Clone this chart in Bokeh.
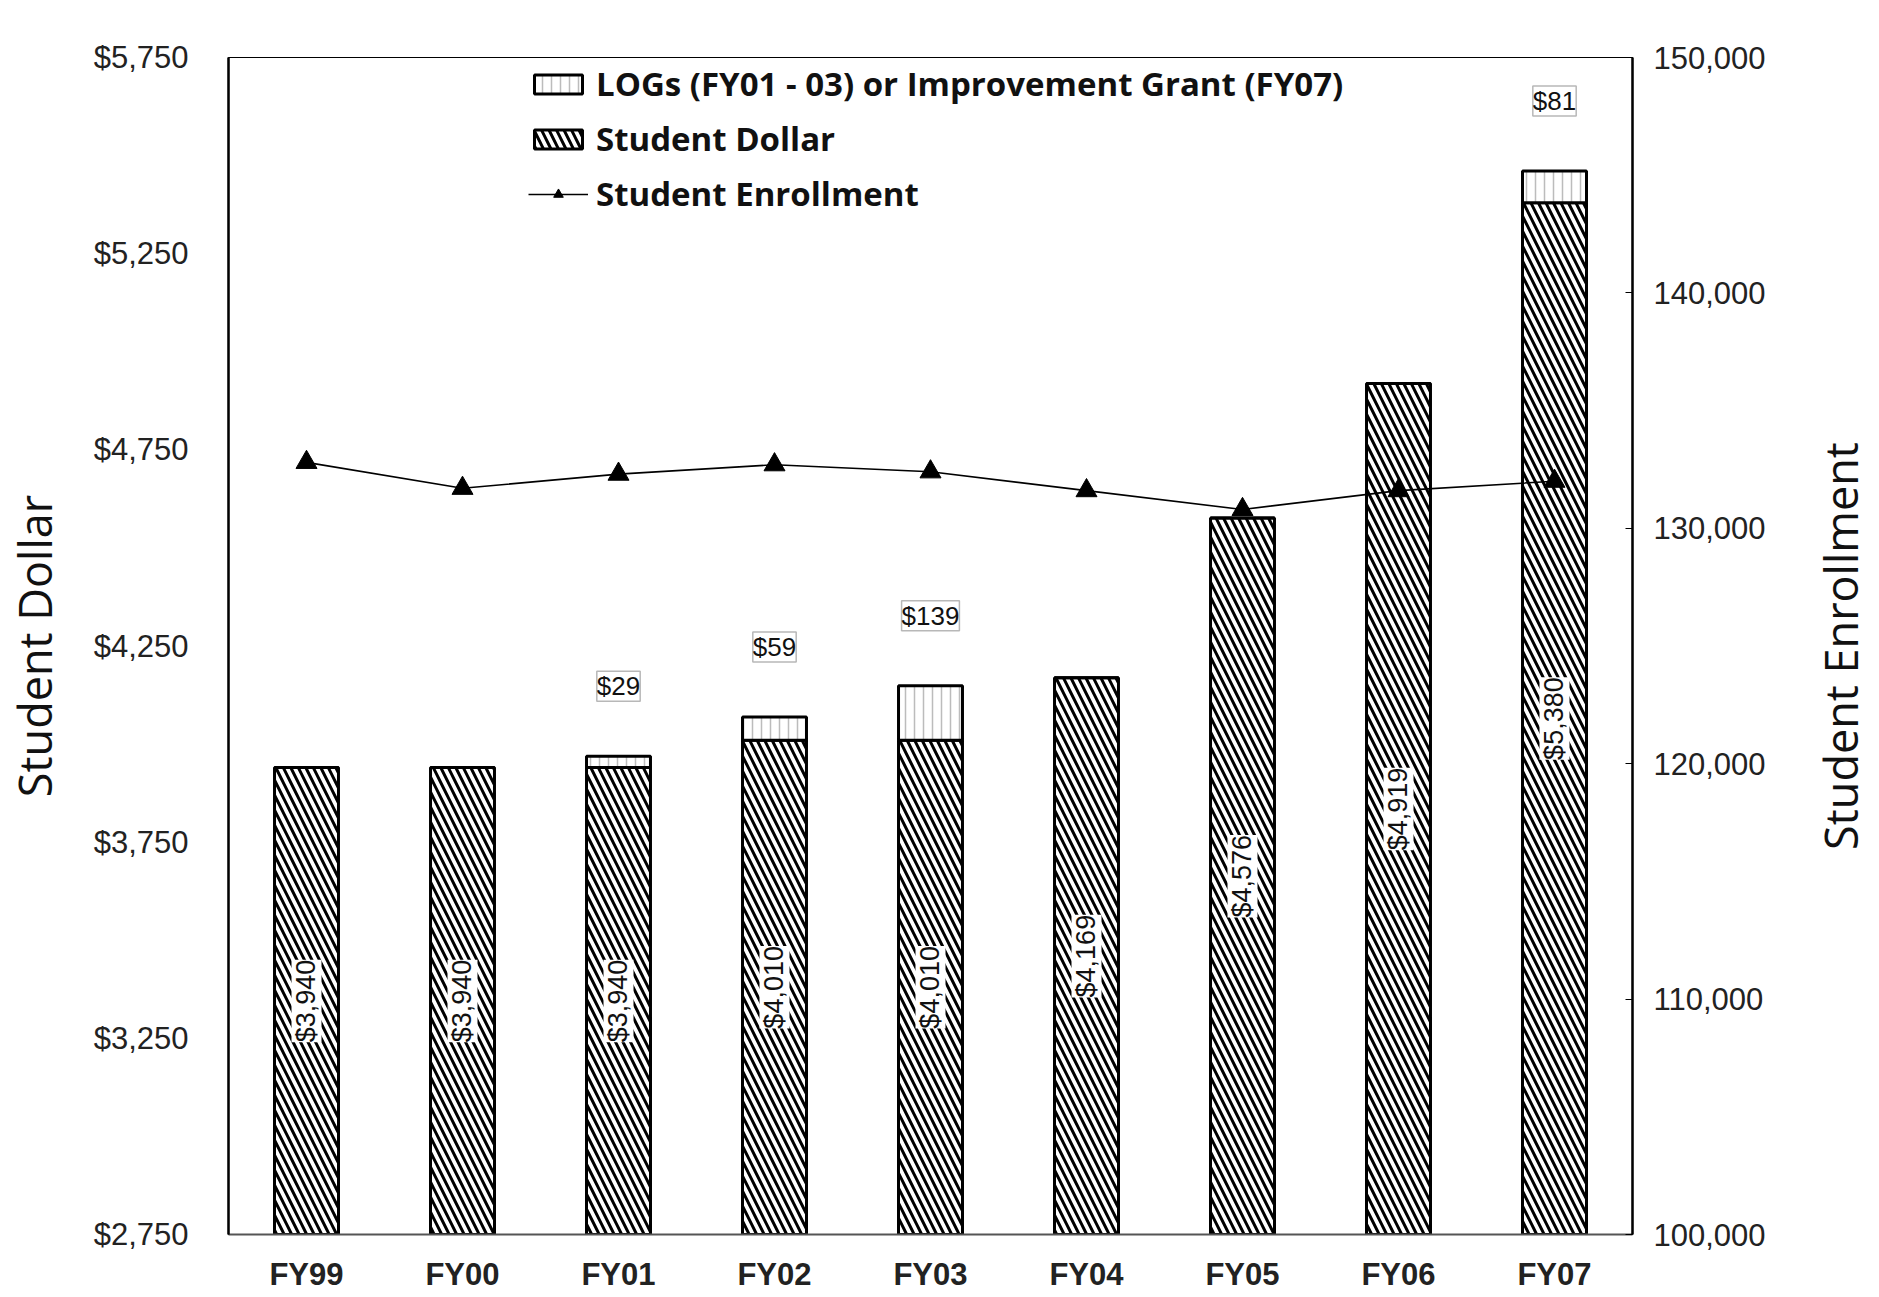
import math
from bokeh.plotting import figure
from bokeh.models import (FactorRange, Range1d, LinearAxis, NumeralTickFormatter,
                          FixedTicker, ColumnDataSource, LabelSet, Label, Legend, LegendItem)
from bokeh.core.properties import value
from bokeh.embed import file_html
from bokeh.resources import INLINE

# ---------------- data ----------------
fiscal_years = ["FY99", "FY00", "FY01", "FY02", "FY03", "FY04", "FY05", "FY06", "FY07"]
student_dollar = [3940, 3940, 3940, 4010, 4010, 4169, 4576, 4919, 5380]
log_grant = [0, 0, 29, 59, 139, 0, 0, 0, 81]
enrollment = [132800, 131700, 132300, 132700, 132400, 131600, 130800, 131600, 132000]
dollar_ticks = [2750, 3250, 3750, 4250, 4750, 5250, 5750]
enroll_ticks = [100000, 110000, 120000, 130000, 140000, 150000]
dollar_min, dollar_max = 2750, 5750
enroll_min, enroll_max = 100000, 150000

total = [d + g for d, g in zip(student_dollar, log_grant)]
src = ColumnDataSource(dict(
    fy=fiscal_years, dollar=student_dollar, log=log_grant, total=total,
    enr=enrollment,
    mid=[(dollar_min + d) / 2 for d in student_dollar],
    dlabel=["${:,}".format(d) for d in student_dollar],
))
lsrc = ColumnDataSource(dict(
    fy=[f for f, g in zip(fiscal_years, log_grant) if g > 0],
    total=[t for t, g in zip(total, log_grant) if g > 0],
    glabel=["${}".format(g) for g in log_grant if g > 0],
))

NUM_FONT = "Liberation Sans"
TITLE_FONT = "Open Sans"

W, H = 1875, 1297
FL, FT, FW, FH = 225, 57, 1407, 1177

p = figure(width=W, height=H, x_range=FactorRange(*fiscal_years),
           y_range=Range1d(dollar_min, dollar_max),
           output_backend="svg", toolbar_location=None,
           min_border_left=FL, min_border_top=FT,
           min_border_right=W - FL - FW, min_border_bottom=H - FT - FH)
p.background_fill_color = "white"
p.border_fill_color = "white"
p.outline_line_color = "black"
p.outline_line_width = 1.2
p.xgrid.visible = False
p.ygrid.visible = False

p.extra_y_ranges = {"enr": Range1d(enroll_min, enroll_max)}

# bars
r_dollar = p.vbar(x="fy", bottom=0, top="dollar", width=0.41, source=src,
                  fill_color="white", line_color="black", line_width=3,
                  hatch_pattern="\\", hatch_color="black", hatch_scale=15,
                  hatch_weight=3)
r_log = p.vbar(x="fy", bottom="dollar", top="total", width=0.41, source=src,
               fill_color="white", line_color="black", line_width=3,
               hatch_pattern="|", hatch_color="#a0a0a0", hatch_scale=9,
               hatch_weight=1.5, hatch_alpha=0.7)

# enrollment line
r_line = p.line(x="fy", y="enr", source=src, y_range_name="enr",
                line_color="black", line_width=1.6)
r_pts = p.scatter(x="fy", y="enr", source=src, y_range_name="enr",
                  marker="triangle", size=21, fill_color="black",
                  line_color="black")

# labels
p.add_layout(LabelSet(x="fy", y="mid", text="dlabel", source=src,
                      angle=math.pi / 2, text_align="center",
                      text_baseline="middle", text_font=value(NUM_FONT),
                      text_font_size=value("27px"), text_color=value("#111111"),
                      background_fill_color="white"))
p.add_layout(LabelSet(x="fy", y="total", text="glabel", source=lsrc,
                      y_offset=70, text_align="center", text_baseline="middle",
                      text_font=value(NUM_FONT), text_font_size=value("26px"),
                      text_color=value("#111111"), background_fill_color="white",
                      border_line_color="#b8b8b8", border_line_width=1.5))

# axes
ya = p.yaxis[0]
ya.ticker = FixedTicker(ticks=dollar_ticks)
ya.formatter = NumeralTickFormatter(format="$0,0")
ya.axis_label = "Student Dollar"
ya.axis_label_text_font = TITLE_FONT
ya.axis_label_text_font_size = "45px"
ya.axis_label_text_font_style = "normal"
ya.axis_label_text_color = "#111111"
ya.axis_label_standoff = 26
ya.major_label_text_font = NUM_FONT
ya.major_label_text_font_size = "31px"
ya.major_label_text_color = "#222222"
ya.major_label_standoff = 40
ya.major_tick_out = 0
ya.major_tick_in = 0
ya.minor_tick_out = 0
ya.minor_tick_in = 0
ya.axis_line_width = 2.5
ya.axis_line_color = "black"

ra = LinearAxis(y_range_name="enr", ticker=FixedTicker(ticks=enroll_ticks),
                formatter=NumeralTickFormatter(format="0,0"))
ra.major_label_text_font = NUM_FONT
ra.major_label_text_font_size = "31px"
ra.major_label_text_color = "#222222"
ra.major_label_standoff = 21
ra.major_tick_out = 0
ra.major_tick_in = 7
ra.minor_tick_out = 0
ra.minor_tick_in = 0
ra.axis_line_width = 2.5
ra.axis_line_color = "black"
p.add_layout(ra, "right")

# right-hand axis title, reading bottom-to-top as in the original
p.add_layout(Label(text="Student Enrollment", x=72, x_units="screen",
                   y=(dollar_min + dollar_max) / 2, y_units="data",
                   angle=math.pi / 2, text_align="center", text_baseline="middle",
                   text_font=TITLE_FONT, text_font_size="45px",
                   text_color="#111111"), "right")

xa = p.xaxis[0]
xa.major_label_text_font = NUM_FONT
xa.major_label_text_font_size = "31px"
xa.major_label_text_font_style = "bold"
xa.major_label_text_color = "#222222"
xa.major_label_standoff = 22
xa.major_tick_out = 0
xa.major_tick_in = 0
xa.axis_line_color = "#555555"
xa.axis_line_width = 2

# legend
legend = Legend(items=[
    LegendItem(label="LOGs (FY01 - 03) or Improvement Grant (FY07)", renderers=[r_log]),
    LegendItem(label="Student Dollar", renderers=[r_dollar]),
    LegendItem(label="Student Enrollment", renderers=[r_line, r_pts]),
], location=(300, FH - 4 - 155))
legend.border_line_color = None
legend.background_fill_alpha = 0
legend.padding = 0
legend.margin = 0
legend.glyph_width = 60
legend.glyph_height = 24
legend.label_height = 45
legend.spacing = 10
legend.label_standoff = 8
legend.label_text_font = "Open Sans"
legend.label_text_font_style = "bold"
legend.label_text_font_size = "33px"
legend.label_text_color = "#111111"
p.add_layout(legend)

open("out.html", "w").write(file_html(p, INLINE))
